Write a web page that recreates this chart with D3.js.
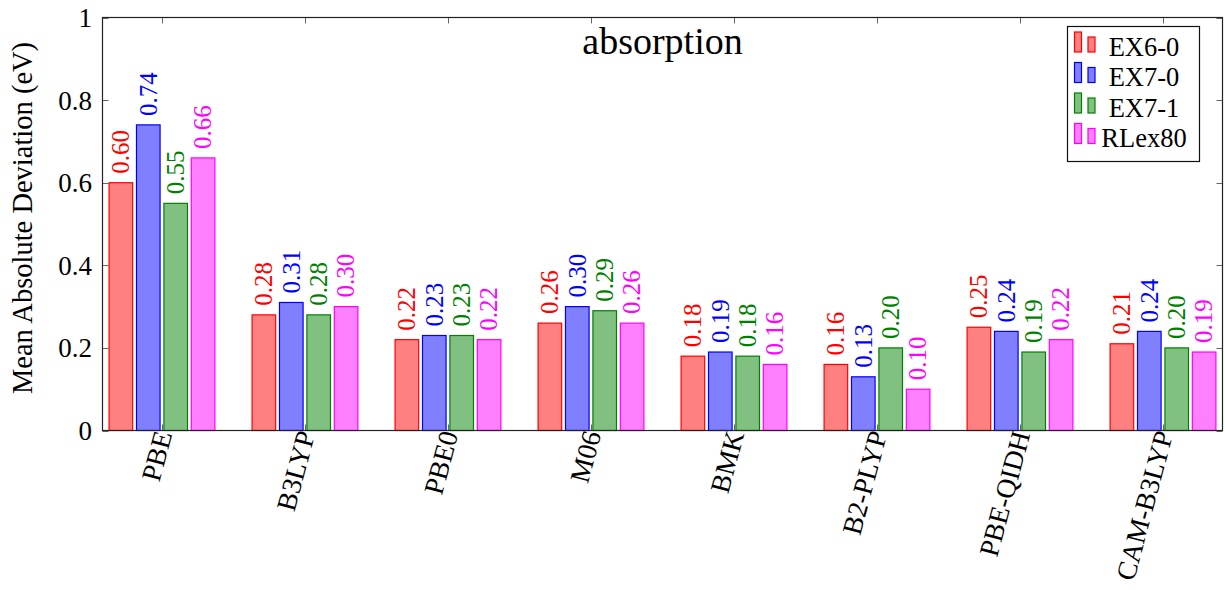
<!DOCTYPE html>
<html>
<head>
<meta charset="utf-8">
<script src="https://cdn.jsdelivr.net/npm/d3@7"></script>
<style>
  html, body { margin: 0; padding: 0; background: #fff; }
  svg { display: block; font-family: "Liberation Serif", "DejaVu Serif", serif; }
</style>
</head>
<body>
<svg id="chart" width="1225" height="590"></svg>
<script>
// Functionals on the x axis
const methods = ["PBE", "B3LYP", "PBE0", "M06", "BMK", "B2-PLYP", "PBE-QIDH", "CAM-B3LYP"];
// Benchmark sets (one bar per set in each group)
const seriesNames = ["EX6-0", "EX7-0", "EX7-1", "RLex80"];
// Mean absolute deviations (eV), one array per benchmark set
const ex60   = [0.60, 0.28, 0.22, 0.26, 0.18, 0.16, 0.25, 0.21];
const ex70   = [0.74, 0.31, 0.23, 0.30, 0.19, 0.13, 0.24, 0.24];
const ex71   = [0.55, 0.28, 0.23, 0.29, 0.18, 0.20, 0.19, 0.20];
const rlex80 = [0.66, 0.30, 0.22, 0.26, 0.16, 0.10, 0.22, 0.19];
const yTicks = [0, 0.2, 0.4, 0.6, 0.8, 1];
const yTickLabels = ["0", "0.2", "0.4", "0.6", "0.8", "1"];

const seriesValues = [ex60, ex70, ex71, rlex80];
const strokeColors = ["#ff0000", "#0000ff", "#008000", "#ff00ff"];
const fillColors   = ["#ff8080", "#8080ff", "#80c080", "#ff80ff"];

const svg = d3.select("#chart");
const plotL = 102.5, plotR = 1222.5, plotT = 17.5, plotB = 430.5;

const x = d3.scalePoint().domain(methods).range([plotL, plotR]).padding(0.416);
const y = d3.scaleLinear().domain([0, 1]).range([plotB, plotT]);

// offset of each series inside a group, in px
const off = d3.scaleLinear().domain([0, seriesNames.length - 1])
  .range([-x.step() * 0.2875, x.step() * 0.2875]);
const barW = x.step() * 0.165;

// tick marks (inside the frame, on all four sides)
const tickG = svg.append("g").attr("stroke", "#666").attr("stroke-width", 1);
yTicks.forEach(t => {
  const ty = Math.round(y(t)) + 0.5;
  tickG.append("line").attr("x1", plotL).attr("x2", plotL + 6).attr("y1", ty).attr("y2", ty);
  tickG.append("line").attr("x1", plotR).attr("x2", plotR - 6).attr("y1", ty).attr("y2", ty);
});
methods.forEach(m => {
  const cx = Math.round(x(m)) + 0.5;
  tickG.append("line").attr("x1", cx).attr("x2", cx).attr("y1", plotB).attr("y2", plotB - 6);
  tickG.append("line").attr("x1", cx).attr("x2", cx).attr("y1", plotT).attr("y2", plotT + 6);
});

// bars and value labels
seriesValues.forEach((vals, si) => {
  const g = svg.append("g");
  g.selectAll("rect").data(vals).join("rect")
    .attr("x", (d, i) => x(methods[i]) + off(si) - barW / 2)
    .attr("y", d => y(d))
    .attr("width", barW)
    .attr("height", d => y(0) - y(d))
    .attr("fill", fillColors[si])
    .attr("stroke", strokeColors[si])
    .attr("stroke-width", 1.2);
  g.selectAll("text").data(vals).join("text")
    .attr("transform", (d, i) => `translate(${x(methods[i]) + off(si)},${y(d) - 9}) rotate(-90)`)
    .attr("dy", "0.33em")
    .attr("text-anchor", "start")
    .attr("font-size", 25)
    .attr("fill", strokeColors[si])
    .text(d => d.toFixed(2));
});

// frame
svg.append("rect").attr("x", plotL).attr("y", plotT).attr("width", plotR - plotL).attr("height", plotB - plotT)
  .attr("fill", "none").attr("stroke", "#222").attr("stroke-width", 1.2);

// y tick labels
svg.append("g").selectAll("text").data(yTicks).join("text")
  .attr("x", 92).attr("y", d => y(d)).attr("dy", "0.35em")
  .attr("text-anchor", "end").attr("font-size", 27)
  .text((d, i) => yTickLabels[i]);

// x tick labels, rotated
svg.append("g").selectAll("text").data(methods).join("text")
  .attr("transform", d => `translate(${x(d) + 1},${plotB + 1}) rotate(-75)`)
  .attr("dy", "0.35em")
  .attr("text-anchor", "end")
  .attr("font-size", 27.5)
  .text(d => d);

// y axis title
svg.append("text")
  .attr("transform", `translate(22,${(plotT + plotB) / 2 - 6}) rotate(-90)`)
  .attr("dy", "0.35em")
  .attr("text-anchor", "middle")
  .attr("font-size", 28.5)
  .text("Mean Absolute Deviation (eV)");

// plot title
svg.append("text")
  .attr("x", (plotL + plotR) / 2).attr("y", 54)
  .attr("text-anchor", "middle")
  .attr("font-size", 38)
  .text("absorption");

// legend
const lg = svg.append("g");
lg.append("rect").attr("x", 1067.5).attr("y", 26.5).attr("width", 132).attr("height", 135)
  .attr("fill", "#fff").attr("stroke", "#111").attr("stroke-width", 1.2);
seriesNames.forEach((name, i) => {
  const cy = 46.5 + i * 30.5;
  lg.append("rect").attr("x", 1074.5).attr("y", cy - 14.5).attr("width", 7).attr("height", 20)
    .attr("fill", fillColors[i]).attr("stroke", strokeColors[i]).attr("stroke-width", 1.2);
  lg.append("rect").attr("x", 1088).attr("y", cy - 9.5).attr("width", 7).attr("height", 15)
    .attr("fill", fillColors[i]).attr("stroke", strokeColors[i]).attr("stroke-width", 1.2);
  lg.append("text").attr("x", 1144).attr("y", cy).attr("dy", "0.35em")
    .attr("text-anchor", "middle").attr("font-size", 26.5).text(name);
});
</script>
</body>
</html>
